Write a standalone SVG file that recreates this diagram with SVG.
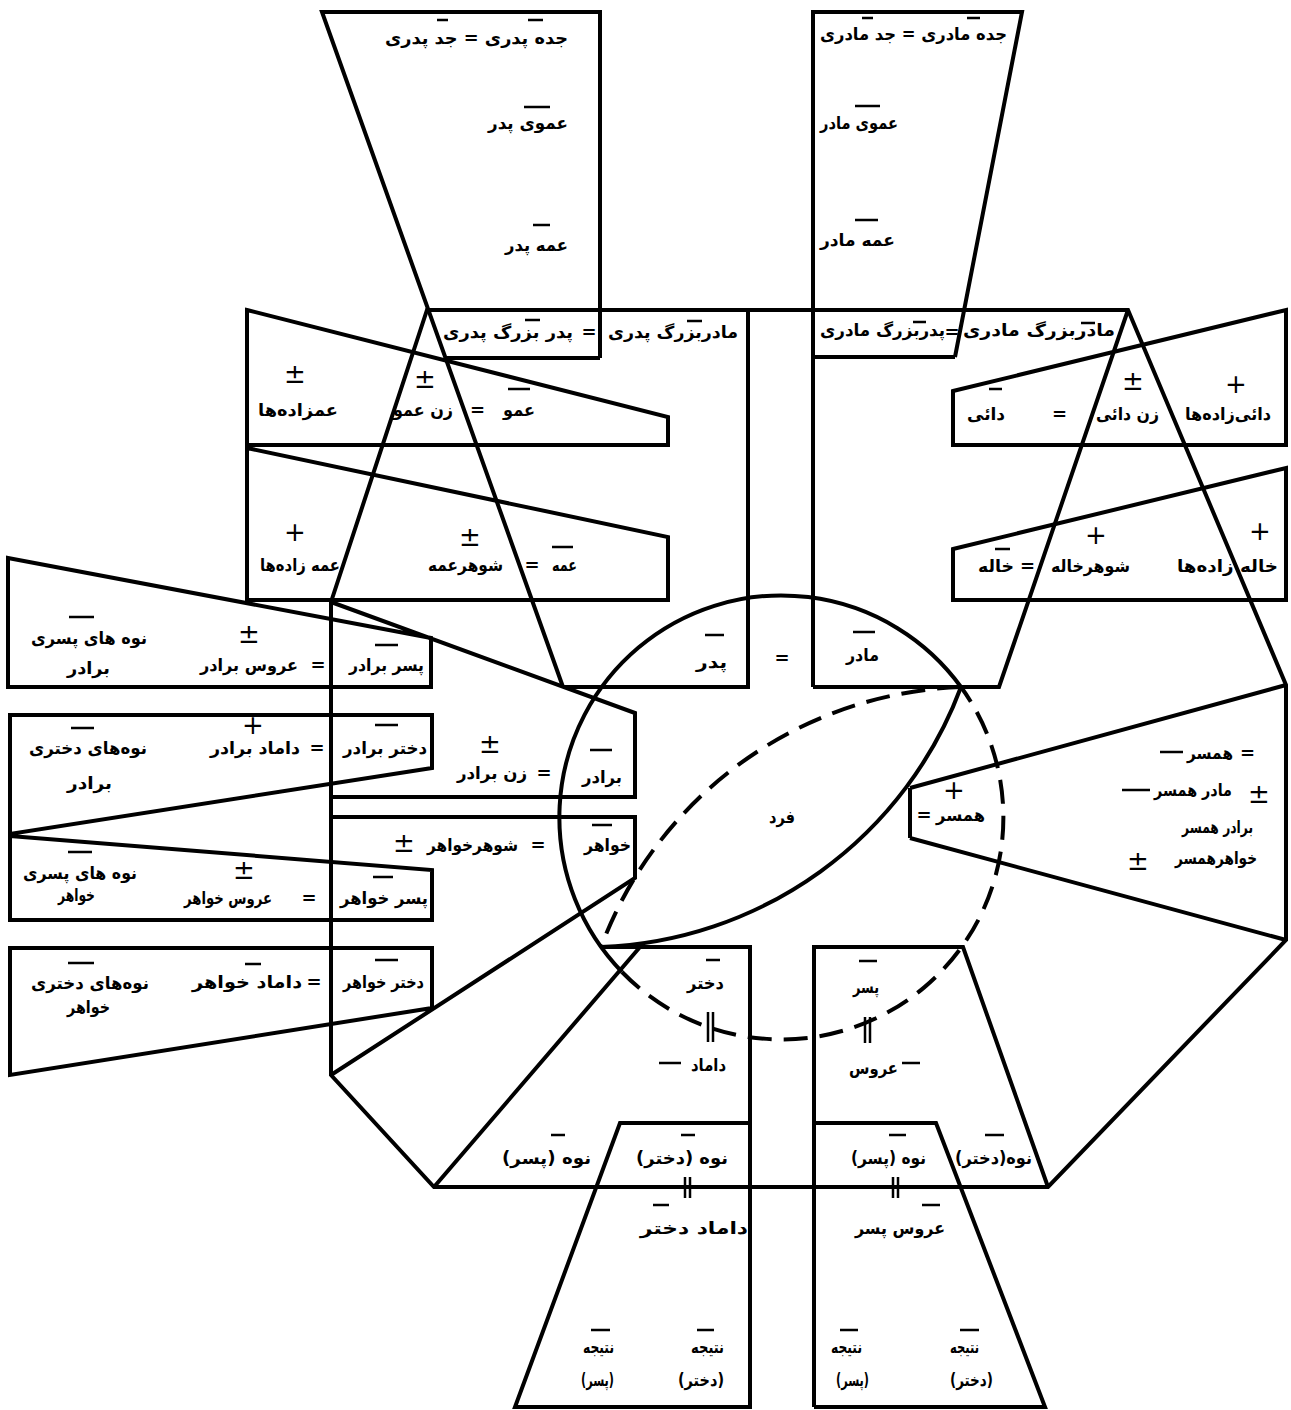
<svg xmlns="http://www.w3.org/2000/svg" width="1291" height="1410" viewBox="0 0 1291 1410">
<style>
.s{fill:none;stroke:#000;stroke-width:4;stroke-linejoin:miter}
.d{fill:none;stroke:#000;stroke-width:4;stroke-dasharray:24 12}
.b{stroke:#000;stroke-width:2.5;fill:none}
.t{font-family:"DejaVu Sans",sans-serif;font-weight:bold;font-size:17px;direction:rtl;text-anchor:middle;fill:#000}
.y{font-family:"DejaVu Sans",sans-serif;font-size:26px;text-anchor:middle;fill:#000}
.e{font-family:"DejaVu Sans",sans-serif;font-weight:bold;font-size:18px;text-anchor:middle;fill:#000}
</style>
<rect width="1291" height="1410" fill="#fff"/>
<g id="connectors">
<path class="s" d="M600,358 V12 H322 L563,687"/>
<path class="s" d="M813,687 V12 H1022 L955,357"/>
<path class="s" d="M331,1075 V602 L427,310 H1128 L1286,685 V940 L1048,1187 H434 Z"/>
<path class="s" d="M444,358 H600 M813,357 H955 M748,310 V687 H563 M813,687 H999 L1128,310"/>
<path class="s" d="M247,310 L668,417 V445 H247 Z M247,448 L668,537 V600 H247 Z"/>
<path class="s" d="M953,391 L1286,310 V445 H953 Z M953,549 L1286,468 V600 H953 Z"/>
<path class="s" d="M331,602 L635,713 V797 H331 M8,558 L431,638 V687 H8 Z M10,715 H432 V768 L10,834 Z M10,836 L432,870 V920 H10 Z M331,817 H635 V878 L331,1075 M10,948 H432 V1008 L10,1075 Z"/>
<path class="s" d="M910,788 L1286,685 M910,838 L1286,940 M910,788 V838"/>
<path class="s" d="M601,947 H750 V1407 H515 L620,1123 H750 M434,1187 L640,947 M814,1407 V947 H963 L1048,1187 M814,1123 H936 L1045,1407 H814"/>
<path class="s" d="M961,687 A222,222 0 1 0 622,972"/>
<path class="d" d="M622,972 A222,222 0 0 0 961,687"/>
<path class="s" d="M961,687 A400,400 0 0 1 601,947"/>
<path class="d" d="M961,687 A400,400 0 0 0 601,947"/>
</g>
<g id="marks">
<path class="b" d="M437,20 H448 M528,20 H543 M524,107 H550 M533,225 H550 M862,18 H873 M967,18 H980 M855,106 H880 M855,220 H878 M687,321 H702 M525,320 H540 M508,389 H530 M552,547 H573 M913,322 H926 M1081,323 H1095 M989,389 H1002 M995,549 H1010 M69,617 H94 M375,645 H398 M71,728 H94 M375,725 H398 M590,750 H612 M68,852 H92 M373,877 H393 M592,825 H612 M68,963 H94 M245,964 H261 M375,960 H398 M705,635 H724 M853,632 H875 M706,960 H720 M859,961 H877 M551,1135 H565 M681,1135 H695 M889,1135 H906 M985,1135 H1004 M653,1205 H669 M922,1205 H940 M591,1330 H610 M697,1330 H714 M840,1330 H858 M960,1330 H979"/>
<path class="b" stroke-width="3" d="M1160,752 H1183 M1122,790 H1150 M659,1063 H681 M902,1063 H920"/>
<path class="b" d="M708,1012 V1042 M713,1012 V1042 M865,1017 V1043 M870,1017 V1043 M685,1177 V1198 M690,1177 V1198 M893,1177 V1198 M898,1177 V1198"/>
</g>
<g id="paternal-ancestors">
<text class="t" x="476.5" y="44" textLength="183" lengthAdjust="spacingAndGlyphs">جده پدری = جد پدری</text>
<text class="t" x="528" y="129" textLength="80" lengthAdjust="spacingAndGlyphs">عموی پدر</text>
<text class="t" x="536.5" y="251" textLength="63" lengthAdjust="spacingAndGlyphs">عمه پدر</text>
</g>
<g id="maternal-ancestors">
<text class="t" x="913.5" y="40" textLength="187" lengthAdjust="spacingAndGlyphs">جده مادری = جد مادری</text>
<text class="t" x="859" y="129" textLength="78" lengthAdjust="spacingAndGlyphs">عموی مادر</text>
<text class="t" x="857.5" y="246" textLength="75" lengthAdjust="spacingAndGlyphs">عمه مادر</text>
</g>
<g id="paternal-grandparents">
<text class="t" x="673" y="338" textLength="130" lengthAdjust="spacingAndGlyphs">مادربزرگ پدری</text>
<text class="e" x="589" y="338">=</text>
<text class="t" x="508" y="338" textLength="130" lengthAdjust="spacingAndGlyphs">پدر بزرگ پدری</text>
</g>
<g id="paternal-uncle">
<text class="y" x="295" y="383">±</text>
<text class="t" x="298" y="416" textLength="80" lengthAdjust="spacingAndGlyphs">عمزاده‌ها</text>
<text class="y" x="425" y="388">±</text>
<text class="t" x="423" y="416" textLength="60" lengthAdjust="spacingAndGlyphs">زن عمو</text>
<text class="e" x="477.5" y="416">=</text>
<text class="t" x="519" y="416" textLength="32" lengthAdjust="spacingAndGlyphs">عمو</text>
</g>
<g id="paternal-aunt">
<text class="y" x="295" y="541">+</text>
<text class="t" x="300" y="571" textLength="80" lengthAdjust="spacingAndGlyphs">عمه زاده‌ها</text>
<text class="y" x="470" y="546">±</text>
<text class="t" x="465.5" y="571" textLength="75" lengthAdjust="spacingAndGlyphs">شوهرعمه</text>
<text class="e" x="532" y="571">=</text>
<text class="t" x="564.5" y="571" textLength="25" lengthAdjust="spacingAndGlyphs">عمه</text>
</g>
<g id="maternal-grandparents">
<text class="t" x="882.5" y="336" textLength="125" lengthAdjust="spacingAndGlyphs">پدربزرگ مادری</text>
<text class="e" x="952" y="338">=</text>
<text class="t" x="1039" y="336" textLength="152" lengthAdjust="spacingAndGlyphs">مادربزرگ مادری</text>
</g>
<g id="maternal-uncle">
<text class="y" x="1133" y="390">±</text>
<text class="t" x="1127.5" y="420" textLength="63" lengthAdjust="spacingAndGlyphs">زن دائی</text>
<text class="e" x="1059.5" y="420">=</text>
<text class="t" x="986" y="420" textLength="38" lengthAdjust="spacingAndGlyphs">دائی</text>
<text class="y" x="1236" y="393">+</text>
<text class="t" x="1228" y="420" textLength="86" lengthAdjust="spacingAndGlyphs">دائی‌زاده‌ها</text>
</g>
<g id="maternal-aunt">
<text class="y" x="1096" y="544">+</text>
<text class="t" x="1090.5" y="572" textLength="79" lengthAdjust="spacingAndGlyphs">شوهرخاله</text>
<text class="e" x="1027.5" y="572">=</text>
<text class="t" x="996" y="572" textLength="36" lengthAdjust="spacingAndGlyphs">خاله</text>
<text class="y" x="1260" y="540">+</text>
<text class="t" x="1227.5" y="572" textLength="101" lengthAdjust="spacingAndGlyphs">خاله زاده‌ها</text>
</g>
<g id="brother-son">
<text class="t" x="89" y="644" textLength="116" lengthAdjust="spacingAndGlyphs">نوه های پسری</text>
<text class="t" x="88.5" y="674" textLength="43" lengthAdjust="spacingAndGlyphs">برادر</text>
<text class="y" x="249" y="643">±</text>
<text class="t" x="249" y="671" textLength="98" lengthAdjust="spacingAndGlyphs">عروس برادر</text>
<text class="e" x="318" y="671">=</text>
<text class="t" x="386.5" y="671" textLength="75" lengthAdjust="spacingAndGlyphs">پسر برادر</text>
</g>
<g id="brother-daughter">
<text class="t" x="88" y="754" textLength="118" lengthAdjust="spacingAndGlyphs">نوه‌های دختری</text>
<text class="t" x="89.5" y="789" textLength="45" lengthAdjust="spacingAndGlyphs">برادر</text>
<text class="y" x="253" y="734">+</text>
<text class="t" x="255" y="754" textLength="90" lengthAdjust="spacingAndGlyphs">داماد برادر</text>
<text class="e" x="317" y="754">=</text>
<text class="t" x="385" y="754" textLength="84" lengthAdjust="spacingAndGlyphs">دختر برادر</text>
</g>
<g id="brother">
<text class="y" x="490" y="753">±</text>
<text class="t" x="492" y="779" textLength="70" lengthAdjust="spacingAndGlyphs">زن برادر</text>
<text class="e" x="544" y="779">=</text>
<text class="t" x="602" y="783" textLength="40" lengthAdjust="spacingAndGlyphs">برادر</text>
</g>
<g id="sister">
<text class="y" x="404" y="852">±</text>
<text class="t" x="472.5" y="851" textLength="91" lengthAdjust="spacingAndGlyphs">شوهرخواهر</text>
<text class="e" x="538" y="851">=</text>
<text class="t" x="607.5" y="851" textLength="47" lengthAdjust="spacingAndGlyphs">خواهر</text>
</g>
<g id="sister-son">
<text class="t" x="80" y="879" textLength="114" lengthAdjust="spacingAndGlyphs">نوه های پسری</text>
<text class="t" x="76.5" y="901" textLength="37" lengthAdjust="spacingAndGlyphs">خواهر</text>
<text class="y" x="244" y="879">±</text>
<text class="t" x="228" y="904" textLength="88" lengthAdjust="spacingAndGlyphs">عروس خواهر</text>
<text class="e" x="309" y="904">=</text>
<text class="t" x="384" y="904" textLength="88" lengthAdjust="spacingAndGlyphs">پسر خواهر</text>
</g>
<g id="sister-daughter">
<text class="t" x="90" y="989" textLength="118" lengthAdjust="spacingAndGlyphs">نوه‌های دختری</text>
<text class="t" x="88.5" y="1013" textLength="43" lengthAdjust="spacingAndGlyphs">خواهر</text>
<text class="t" x="247" y="988" textLength="110" lengthAdjust="spacingAndGlyphs">داماد خواهر</text>
<text class="e" x="314" y="988">=</text>
<text class="t" x="383.5" y="988" textLength="81" lengthAdjust="spacingAndGlyphs">دختر خواهر</text>
</g>
<g id="parents">
<text class="t" x="711.5" y="668" textLength="31" lengthAdjust="spacingAndGlyphs">پدر</text>
<text class="e" x="782" y="664">=</text>
<text class="t" x="862.5" y="661" textLength="33" lengthAdjust="spacingAndGlyphs">مادر</text>
</g>
<g id="self">
<text class="t" x="782" y="823" textLength="26" lengthAdjust="spacingAndGlyphs">فرد</text>
</g>
<g id="spouse">
<text class="y" x="954" y="799">+</text>
<text class="t" x="960.5" y="821" textLength="49" lengthAdjust="spacingAndGlyphs">همسر</text>
<text class="e" x="924" y="821">=</text>
</g>
<g id="spouse-relatives">
<text class="e" x="1247.5" y="759">=</text>
<text class="t" x="1210" y="759" textLength="46" lengthAdjust="spacingAndGlyphs">همسر</text>
<text class="y" x="1259" y="803">±</text>
<text class="t" x="1193" y="796" textLength="78" lengthAdjust="spacingAndGlyphs">مادر همسر</text>
<text class="t" x="1217.5" y="833" textLength="71" lengthAdjust="spacingAndGlyphs">برادر همسر</text>
<text class="t" x="1216" y="864" textLength="82" lengthAdjust="spacingAndGlyphs">خواهرهمسر</text>
<text class="y" x="1138" y="870">±</text>
</g>
<g id="daughter">
<text class="t" x="705.5" y="989" textLength="37" lengthAdjust="spacingAndGlyphs">دختر</text>
<text class="t" x="708.5" y="1071" textLength="35" lengthAdjust="spacingAndGlyphs">داماد</text>
</g>
<g id="son">
<text class="t" x="866" y="993" textLength="26" lengthAdjust="spacingAndGlyphs">پسر</text>
<text class="t" x="873.5" y="1074" textLength="49" lengthAdjust="spacingAndGlyphs">عروس</text>
</g>
<g id="grandchildren">
<text class="t" x="546.5" y="1164" textLength="89" lengthAdjust="spacingAndGlyphs">نوه (پسر)</text>
<text class="t" x="682" y="1164" textLength="92" lengthAdjust="spacingAndGlyphs">نوه (دختر)</text>
<text class="t" x="888.5" y="1164" textLength="75" lengthAdjust="spacingAndGlyphs">نوه (پسر)</text>
<text class="t" x="993.5" y="1164" textLength="77" lengthAdjust="spacingAndGlyphs">نوه(دختر)</text>
<text class="t" x="694" y="1234" textLength="108" lengthAdjust="spacingAndGlyphs">داماد دختر</text>
<text class="t" x="900" y="1234" textLength="90" lengthAdjust="spacingAndGlyphs">عروس پسر</text>
</g>
<g id="great-grandchildren">
<text class="t" x="598.5" y="1353" textLength="31" lengthAdjust="spacingAndGlyphs">نتیجه</text>
<text class="t" x="597.5" y="1386" textLength="33" lengthAdjust="spacingAndGlyphs">(پسر)</text>
<text class="t" x="707.5" y="1353" textLength="33" lengthAdjust="spacingAndGlyphs">نتیجه</text>
<text class="t" x="701" y="1386" textLength="46" lengthAdjust="spacingAndGlyphs">(دختر)</text>
<text class="t" x="846.5" y="1353" textLength="31" lengthAdjust="spacingAndGlyphs">نتیجه</text>
<text class="t" x="852.5" y="1386" textLength="33" lengthAdjust="spacingAndGlyphs">(پسر)</text>
<text class="t" x="964.5" y="1353" textLength="29" lengthAdjust="spacingAndGlyphs">نتیجه</text>
<text class="t" x="971.5" y="1386" textLength="43" lengthAdjust="spacingAndGlyphs">(دختر)</text>
</g>
</svg>
